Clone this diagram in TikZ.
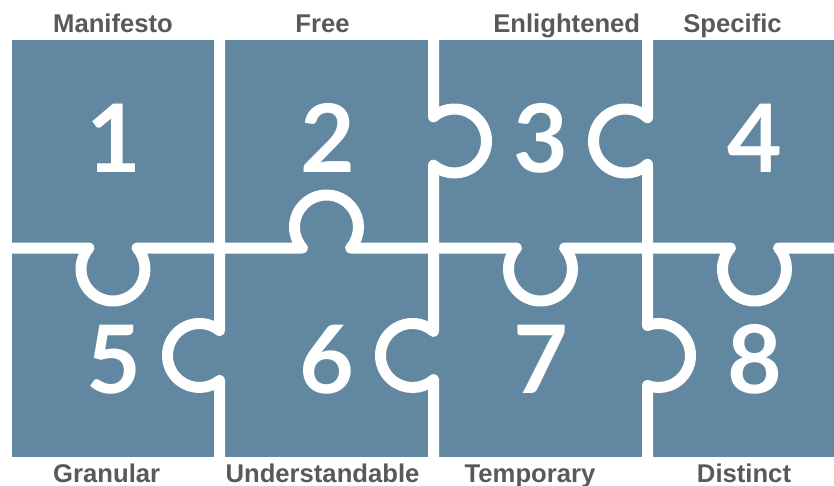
\documentclass[tikz,border=0pt]{standalone}
\usepackage{fontspec}
\setmainfont{Liberation Sans}
\newfontfamily\numfont{Lato}
\usepackage{tikz}
\definecolor{puzzleblue}{RGB}{98,135,160}
\definecolor{labelgray}{RGB}{89,89,89}
\tikzset{
  piece/.style = {fill=puzzleblue, draw=none},
  cut/.style = {draw=white, line width=0.22cm, line join=round},
  number/.style = {anchor=base, text=white, inner sep=0pt,
   font=\numfont\bfseries\fontsize{53.8}{60}\selectfont},
  word/.style = {anchor=base, text=labelgray, inner sep=0pt,
   font=\bfseries\fontsize{14.6}{17}\selectfont},
}
\begin{document}
\begin{tikzpicture}[x=0.02cm,y=0.02cm]
\useasboundingbox (0,0) rectangle (834,485);
% the board, cut into eight pieces
\path[piece] (12,28) rectangle (834,445);
\draw[cut] (12,237) -- (88.85,237) arc[start angle=139,end angle=401,radius=32]
  -- (302.35,237) arc[start angle=221,end angle=-41,radius=32]
  -- (516.35,237) arc[start angle=139,end angle=401,radius=32]
  -- (730.35,237) arc[start angle=139,end angle=401,radius=32]
  -- (834,237);
\draw[cut] (219.5,445) -- (219.5,154.48) arc[start angle=51.3,end angle=308.7,radius=32] -- (219.5,28);
\draw[cut] (433.5,445) -- (433.5,368.15) arc[start angle=131,end angle=-131,radius=32]
  -- (433.5,153.65) arc[start angle=49,end angle=311,radius=32] -- (433.5,28);
\draw[cut] (647.5,445) -- (647.5,367.24) arc[start angle=46.6,end angle=313.4,radius=32]
  -- (647.5,159.55) arc[start angle=110.1,end angle=-110.1,radius=32] -- (647.5,28);
% numbers
\node at(113.5,312.5) (n1) [number] {1};
\node at(327.5,312.5) (n2) [number] {2};
\node at(540.5,312.5) (n3) [number] {3};
\node at(755,312.5) (n4) [number] {4};
\node at(113.5,92) (n5) [number] {5};
\node at(327,92) (n6) [number] {6};
\node at(540.5,92) (n7) [number] {7};
\node at(754.5,92) (n8) [number] {8};
% labels
\node at(113,452.7) (manifesto) [word] {Manifesto};
\node at(322.5,452.7) (free) [word] {Free};
\node at(566.7,452.7) (enlightened) [word] {Enlightened};
\node at(732.5,452.7) (specific) [word] {Specific};
\node at(106.7,3) (granular) [word] {Granular};
\node at(322.5,3) (understandable) [word] {Understandable};
\node at(530,3) (temporary) [word] {Temporary};
\node at(744,3) (distinct) [word] {Distinct};
\end{tikzpicture}
\end{document}
